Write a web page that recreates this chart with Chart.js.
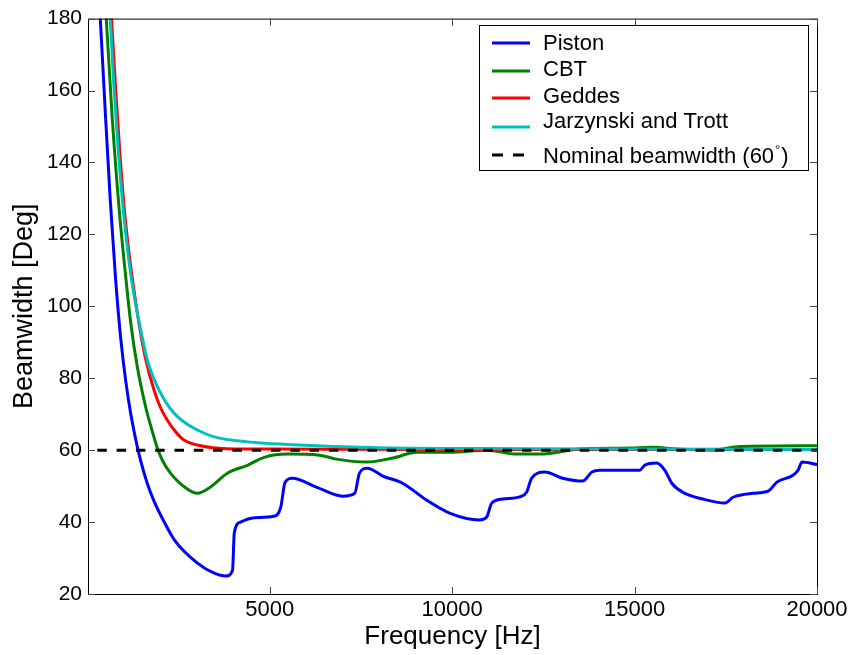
<!DOCTYPE html>
<html>
<head>
<meta charset="utf-8">
<script src="https://cdn.jsdelivr.net/npm/chart.js@4/dist/chart.umd.min.js"></script>
<style>
  html, body { margin: 0; padding: 0; background: #fff; }
</style>
</head>
<body>
<canvas id="chartCanvas" width="853" height="655"></canvas>
<script>
// ---- data ----
const pistonFreq = [280, 357, 494, 631, 777, 915, 1052, 1190, 1372, 1463, 1650, 1838, 2100, 2390, 3020, 3480, 3790, 3980, 4030, 4200, 4580, 5100, 5300, 5420, 5620, 6280, 7000, 7330, 7460, 7680, 8100, 8640, 9300, 9930, 10750, 10950, 11080, 11390, 11850, 12040, 12180, 12540, 13030, 13580, 13830, 14050, 15140, 15280, 15610, 15830, 16020, 16320, 16870, 17480, 17700, 18240, 18660, 18900, 19340, 19480, 19590, 20000];
const pistonDeg  = [195, 180, 154, 129.4, 107.5, 91.3, 79.4, 70.2, 60.9, 57.1, 50.6, 45.6, 40.2, 35, 28.6, 25.8, 25, 26.5, 37, 40, 41.2, 41.6, 44, 51, 52.2, 49.7, 47.2, 48, 53.6, 55, 52.8, 50.8, 46.1, 42.5, 40.6, 41.4, 45.2, 46.4, 47, 48.3, 52.2, 53.9, 52.2, 51.4, 53.9, 54.4, 54.4, 55.8, 56.4, 54.4, 50.8, 48.3, 46.4, 45.3, 46.9, 48, 48.6, 51.1, 53, 54.4, 56.7, 56];

const cbtFreq = [440, 520, 680, 870, 1064, 1190, 1372, 1600, 1760, 1920, 2058, 2280, 2740, 3020, 3370, 3840, 4390, 4850, 5490, 6360, 6830, 7650, 8370, 9030, 9930, 10950, 11770, 12400, 13500, 14870, 15500, 16160, 17150, 17890, 20000];
const cbtDeg  = [195, 180, 153, 127.5, 107.2, 95.5, 83.1, 72, 66, 60.6, 57.2, 53.6, 49.2, 48, 49.7, 53.6, 55.8, 58, 58.9, 58.6, 57.5, 56.7, 57.8, 59.4, 59.4, 60, 58.9, 58.9, 60.3, 60.6, 60.8, 60.3, 60, 61, 61.2];

const geddesFreq = [580, 665, 780, 905, 1030, 1160, 1280, 1463, 1600, 1830, 2000, 2195, 2420, 2650, 3110, 3810, 5000, 10000, 20000];
const geddesDeg  = [196, 180, 160, 141, 125.5, 113.5, 104.5, 92.5, 85.3, 76.7, 72, 68.3, 65.1, 62.8, 61.2, 60.4, 60.3, 60.2, 60.2];

const jtFreq = [560, 630, 725, 845, 1000, 1150, 1300, 1463, 1646, 1830, 2012, 2240, 2470, 2740, 3020, 3480, 4390, 5490, 8000, 12000, 20000];
const jtDeg  = [195, 180, 162, 144, 125.5, 112, 102, 93.5, 85, 79.7, 75.8, 72, 69.3, 67.2, 65.6, 63.7, 62.3, 61.6, 60.7, 60.4, 60.2];

const nominalFreq = [20, 20000];
const nominalDeg  = [60, 60];

const seriesNames = ['Piston', 'CBT', 'Geddes', 'Jarzynski and Trott', 'Nominal beamwidth (60°)'];
const xTicks = [5000, 10000, 15000, 20000];
const yTicks = [20, 40, 60, 80, 100, 120, 140, 160, 180];

function pts(xs, ys) {
  return xs.map((x, i) => ({ x: x, y: ys[i] }));
}

const FONT = "'Liberation Sans', Arial, Helvetica, sans-serif";

// MATLAB style box with inward ticks
const axesBox = {
  id: 'axesBox',
  afterDatasetsDraw(chart) {
    const { ctx, chartArea: a, scales } = chart;
    ctx.save();
    ctx.strokeStyle = '#000';
    ctx.lineWidth = 1;
    ctx.strokeRect(a.left + 0.5, a.top + 0.5, a.right - a.left, a.bottom - a.top);
    ctx.strokeStyle = '#444';
    ctx.beginPath();
    xTicks.forEach(v => {
      const px = Math.round(scales.x.getPixelForValue(v)) + 0.5;
      ctx.moveTo(px, a.bottom); ctx.lineTo(px, a.bottom - 7);
      ctx.moveTo(px, a.top); ctx.lineTo(px, a.top + 7);
    });
    yTicks.forEach(v => {
      const py = Math.round(scales.y.getPixelForValue(v)) + 0.5;
      ctx.moveTo(a.left, py); ctx.lineTo(a.left + 7, py);
      ctx.moveTo(a.right, py); ctx.lineTo(a.right - 7, py);
    });
    ctx.stroke();
    ctx.restore();
  }
};

// legend box drawn inside the axes, top right
const legendBox = {
  id: 'legendBox',
  afterDraw(chart) {
    const ctx = chart.ctx;
    const lineY = [43, 71, 98, 127, 155];
    const textY = [50, 76, 102.5, 128, 162.5];
    ctx.save();
    ctx.fillStyle = '#fff';
    ctx.fillRect(479, 25, 329, 145);
    ctx.strokeStyle = '#000';
    ctx.lineWidth = 1;
    ctx.strokeRect(479.5, 25.5, 329, 145);
    ctx.font = '22px ' + FONT;
    ctx.textBaseline = 'alphabetic';
    chart.data.datasets.forEach((ds, i) => {
      const y = lineY[i];
      ctx.strokeStyle = ds.borderColor;
      ctx.lineWidth = 3;
      ctx.setLineDash(ds.borderDash ? [11, 10] : []);
      ctx.beginPath();
      ctx.moveTo(492, y); ctx.lineTo(530, y);
      ctx.stroke();
      ctx.setLineDash([]);
      ctx.fillStyle = '#000';
      const label = ds.label;
      const k = label.indexOf('°');
      if (k < 0) {
        ctx.fillText(label, 543, textY[i]);
      } else {
        const a = label.slice(0, k), b = label.slice(k + 1);
        ctx.fillText(a, 543, textY[i]);
        let x = 543 + ctx.measureText(a).width;
        ctx.font = '13px ' + FONT;
        ctx.fillText('°', x + 1, textY[i] - 9);
        x += ctx.measureText('°').width + 2;
        ctx.font = '22px ' + FONT;
        ctx.fillText(b, x, textY[i]);
      }
    });
    ctx.restore();
  }
};

const lineStyle = { borderWidth: 3, pointRadius: 0, fill: false, cubicInterpolationMode: 'monotone' };

new Chart(document.getElementById('chartCanvas').getContext('2d'), {
  type: 'line',
  data: {
    datasets: [
      Object.assign({ label: seriesNames[0], data: pts(pistonFreq, pistonDeg), borderColor: '#0000ff', order: 5 }, lineStyle),
      Object.assign({ label: seriesNames[1], data: pts(cbtFreq, cbtDeg), borderColor: '#008000', order: 4 }, lineStyle),
      Object.assign({ label: seriesNames[2], data: pts(geddesFreq, geddesDeg), borderColor: '#ff0000', order: 3 }, lineStyle),
      Object.assign({ label: seriesNames[3], data: pts(jtFreq, jtDeg), borderColor: '#00bfbf', order: 2 }, lineStyle),
      Object.assign({ label: seriesNames[4], data: pts(nominalFreq, nominalDeg), borderColor: '#000000', borderDash: [9.5, 9.8], borderDashOffset: 10, order: 1 }, lineStyle)
    ]
  },
  options: {
    responsive: false,
    animation: false,
    devicePixelRatio: 1,
    layout: { padding: { top: 18, right: 36, left: 0, bottom: 0 } },
    plugins: { legend: { display: false }, tooltip: { enabled: false } },
    scales: {
      x: {
        type: 'linear',
        min: 20,
        max: 20000,
        afterBuildTicks: s => { s.ticks = xTicks.map(v => ({ value: v })); },
        afterFit: s => { s.height = 61; },
        grid: { display: false, drawTicks: false },
        border: { display: false },
        ticks: { color: '#000', font: { size: 22, family: FONT }, padding: 3, maxRotation: 0, callback: v => String(v) },
        title: { display: true, text: 'Frequency [Hz]', color: '#000', font: { size: 26, family: FONT }, padding: { top: 0, bottom: 3 } }
      },
      y: {
        min: 20,
        max: 180,
        afterBuildTicks: s => { s.ticks = yTicks.map(v => ({ value: v })); },
        afterFit: s => { s.width = 88; },
        grid: { display: false, drawTicks: false },
        border: { display: false },
        ticks: { color: '#000', font: { size: 21, family: FONT }, padding: 6 },
        title: { display: true, text: 'Beamwidth [Deg]', color: '#000', font: { size: 27, family: FONT }, padding: { top: 8, bottom: 0 } }
      }
    }
  },
  plugins: [axesBox, legendBox]
});
</script>
</body>
</html>
